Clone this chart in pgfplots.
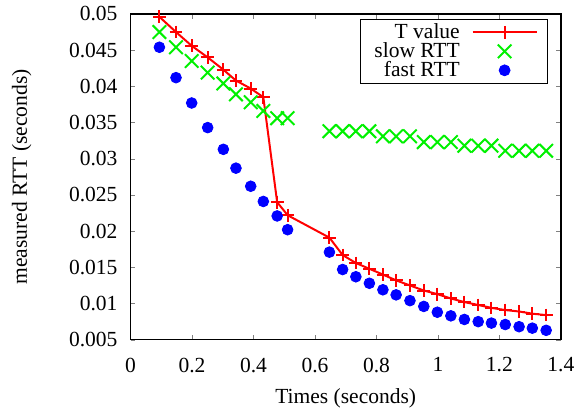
\documentclass[border=0pt]{standalone}
\usepackage{pgfplots}
\pgfplotsset{compat=1.18}
\usepackage{fontspec}
\setmainfont{Liberation Serif}

\definecolor{tred}{RGB}{255,0,0}
\definecolor{sgreen}{RGB}{0,240,0}
\definecolor{fblue}{RGB}{0,0,255}

% legend sample: 32pt line with the mark in the middle
\pgfplotsset{midleg/.style={legend image code/.code={\draw[##1, mark repeat=2, mark phase=2]
  plot coordinates {(0pt,0pt) (16pt,0pt) (32pt,0pt)};}}}

\pgfplotstableread{
x      T       slow    fast
0.094  0.0496  0.0475  0.0454
0.148  0.0475  0.0454  0.0412
0.199  0.0456  0.0435  0.0377
0.251  0.0440  0.0419  0.0343
0.302  0.0423  0.0404  0.0313
0.343  0.0408  0.0389  0.0287
0.391  0.0397  0.0378  0.0262
0.432  0.0385  0.0366  0.0241
0.477  0.0240  0.0356  0.0221
0.511  0.0222  0.0356  0.0202
0.647  0.0191  0.0338  0.0171
0.690  0.0167  0.0338  0.0147
0.733  0.0156  0.0338  0.0137
0.777  0.0148  0.0338  0.0128
0.821  0.0140  0.0331  0.0119
0.864  0.0132  0.0331  0.0112
0.909  0.0125  0.0331  0.0104
0.954  0.0118  0.0323  0.0096
0.998  0.0113  0.0323  0.0088
1.042  0.0107  0.0323  0.0083
1.086  0.0102  0.0318  0.0078
1.131  0.0098  0.0318  0.0075
1.174  0.0094  0.0318  0.0073
1.219  0.0091  0.0311  0.0071
1.264  0.0089  0.0311  0.0068
1.307  0.0086  0.0311  0.0066
1.352  0.0084  0.0311  0.0063
}\rtt

\begin{document}
\begin{tikzpicture}[font=\fontsize{10.8}{13}\selectfont]
  \begin{axis}[
      name=ax,
      scale only axis,
      width=216pt,
      height=163.5pt,
      xmin=0, xmax=1.4,
      ymin=0.005, ymax=0.05,
      xtick={0,0.2,...,1.4},
      ytick={0.005,0.01,...,0.05},
      scaled ticks=false,
      /pgf/number format/assume math mode=true,
      xticklabel style={/pgf/number format/fixed, yshift=-5.5pt},
      yticklabel style={/pgf/number format/fixed, /pgf/number format/precision=3, xshift=-3pt},
      tick align=inside,
      major tick length=2.5pt,
      axis line style={line width=0.7pt},
      xlabel={Times (seconds)},
      ylabel={measured RTT (seconds)},
      xlabel shift=1.5pt,
      ylabel shift=12pt,
      legend style={at={(1,1)}, anchor=north east, xshift=-6.5pt, yshift=-2.5pt,
                    draw=black, line width=0.5pt, row sep=-3.5pt, column sep=4pt,
                    inner xsep=5pt, inner ysep=0pt},
      legend cell align=right,
      legend plot pos=right,
    ]
    \addplot[color=tred, line width=1pt, mark=+, mark size=3.2pt, midleg]
      table[x=x, y=T] {\rtt};
    \addlegendentry{T value}
    \addplot[color=sgreen, only marks, mark=x, mark size=4.8pt, line width=1pt, midleg]
      table[x=x, y=slow] {\rtt};
    \addlegendentry{slow RTT}
    \addplot[color=fblue, only marks, mark=*, mark size=2.7pt, midleg]
      table[x=x, y=fast] {\rtt};
    \addlegendentry{fast RTT}
  \end{axis}
  \path ([xshift=-65.5pt, yshift=-37pt]ax.south west)
    rectangle ([xshift=9pt, yshift=5.5pt]ax.north east);
\end{tikzpicture}
\end{document}
